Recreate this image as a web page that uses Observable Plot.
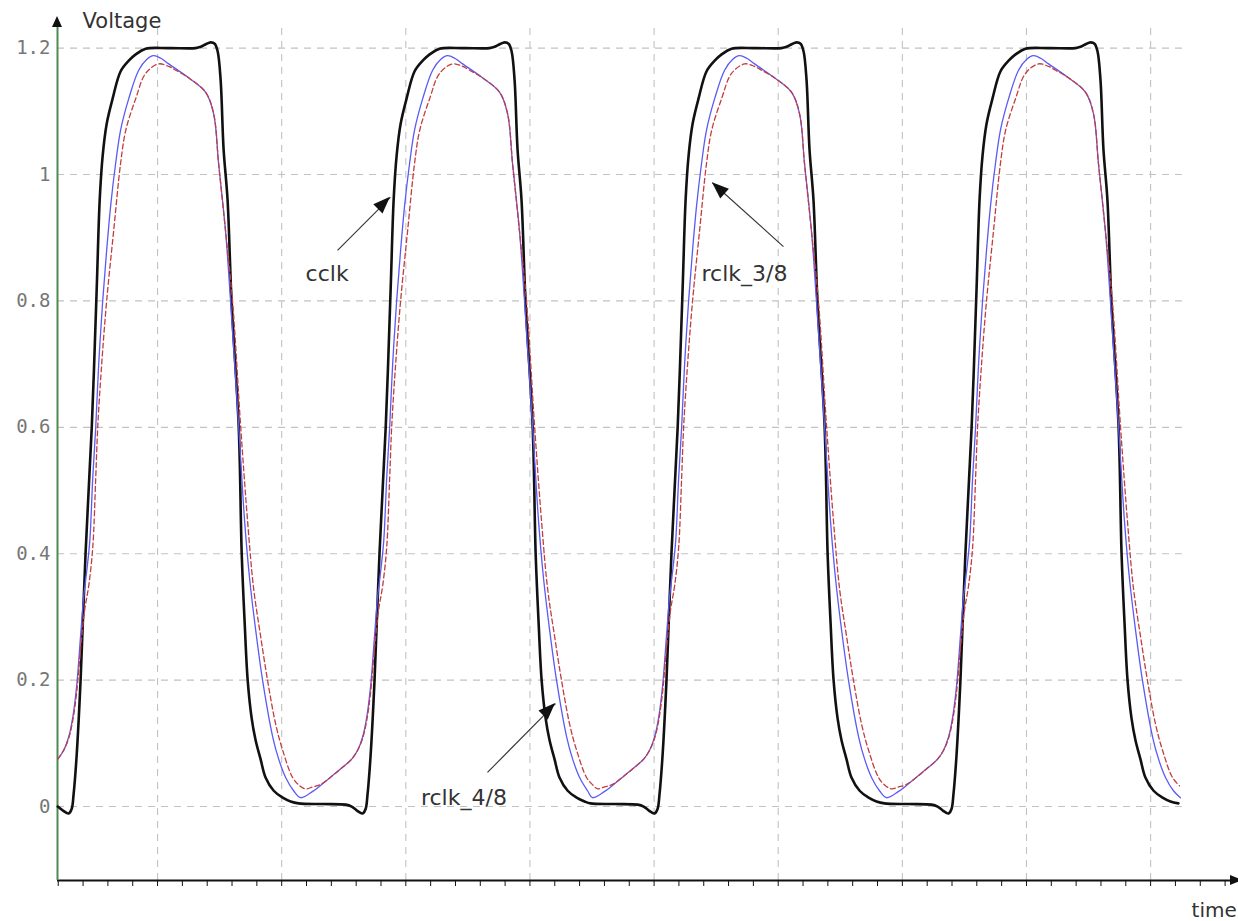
<!DOCTYPE html>
<html><head><meta charset="utf-8">
<script src="https://cdn.jsdelivr.net/npm/d3@7"></script>
<script src="https://cdn.jsdelivr.net/npm/@observablehq/plot@0.6"></script>
<style>
html,body{margin:0;padding:0;background:#fff;overflow:hidden}
#chart svg{display:block}
g[aria-label="annot"] text{letter-spacing:1.5px}
</style></head><body><div id="chart"></div>
<script>
// ---- scale frame (time units: one minor tick = 1; volts) ----
const tStart = 0.97, tEnd = 46.28, tAxisEnd = 48.54;
const yMin = -0.117, yMax = 1.25;
const gridT = [5, 10, 15, 20, 25, 30, 35, 40, 45];
const tickT = [1,2,3,4,5,6,7,8,9,10,11,12,13,14,15,16,17,18,19,20,21,22,23,24,25,26,27,28,29,30,31,32,33,34,35,36,37,38,39,40,41,42,43,44,45,46,47,48];
const yTicks = [0, 0.2, 0.4, 0.6, 0.8, 1, 1.2];
const yTickLabels = ["0", "0.2", "0.4", "0.6", "0.8", "1", "1.2"];

// time of the cclk undershoot minimum in each clock cycle
const cycleDips = [1.42, 13.26, 25.02, 36.86];

// one clock period of each waveform, time relative to the cycle's cclk dip
const cclkPhase = [-2.58,-1.61,-0.68,-0.44,-0.24,0,0.12,0.20,0.32,0.48,0.68,0.93,1.13,1.25,1.37,1.53,1.77,2.09,2.42,2.70,3.10,4.03,5.11,5.32,5.52,5.72,5.88,6.00,6.12,6.24,6.40,6.56,6.85,6.97,7.09,7.21,7.37,7.53,7.73,7.93,8.26,8.62,8.94,9.26,9.45];
const cclkV     = [0.005,0.004,0.003,0.000,-0.006,-0.011,-0.004,0.02,0.08,0.2,0.4,0.6,0.82,0.96,1.03,1.08,1.12,1.163,1.18,1.19,1.199,1.2,1.2,1.202,1.206,1.209,1.207,1.195,1.15,1.04,0.96,0.8,0.6,0.40,0.29,0.2,0.14,0.105,0.075,0.046,0.025,0.014,0.008,0.005,0.005];

const rclk48Phase = [-2.50,-2.01,-1.61,-1.21,-0.81,-0.44,-0.20,0,0.16,0.32,0.48,0.60,0.72,0.85,0.97,1.09,1.21,1.37,1.53,1.69,1.89,2.09,2.42,2.82,3.14,3.42,3.71,4.03,4.83,5.52,5.84,6.04,6.32,6.52,6.85,7.09,7.29,7.53,7.81,8.22,8.46,8.74,9.06,9.34,9.50];
const rclk48V     = [0.014,0.024,0.036,0.049,0.062,0.075,0.089,0.11,0.14,0.19,0.27,0.33,0.37,0.42,0.52,0.6,0.7,0.8,0.88,0.95,1.017,1.07,1.12,1.165,1.182,1.188,1.184,1.175,1.153,1.13,1.096,1.017,0.91,0.8,0.6,0.45,0.36,0.28,0.2,0.11,0.075,0.046,0.025,0.014,0.014];

const rclk38Phase = [-2.30,-2.01,-1.69,-1.21,-0.81,-0.44,-0.20,0,0.16,0.32,0.48,0.64,0.81,0.97,1.09,1.17,1.33,1.53,1.81,2.09,2.30,2.70,3.10,3.62,4.03,4.31,4.83,5.52,5.84,6.04,6.32,6.60,6.93,7.21,7.45,7.73,8.01,8.34,8.62,9.02,9.30,9.54];
const rclk38V     = [0.028,0.031,0.035,0.049,0.062,0.075,0.089,0.108,0.135,0.18,0.25,0.31,0.35,0.41,0.52,0.6,0.7,0.8,0.91,1.017,1.07,1.12,1.16,1.175,1.171,1.165,1.153,1.13,1.096,1.017,0.91,0.8,0.6,0.45,0.345,0.27,0.2,0.13,0.089,0.046,0.033,0.028];

// annotations
const annLabels = ["cclk", "rclk_3/8", "rclk_4/8"];
const annTextT  = [11.83, 28.64, 17.34];
const annTextV  = [0.842, 0.842, 0.014];
const annTailT  = [12.25, 30.21, 18.29];
const annTailV  = [0.88, 0.886, 0.054];
const annTipT   = [14.38, 27.35, 21.03];
const annTipV   = [0.964, 0.987, 0.163];

function buildSeries(phase, values) {
  const rows = [];
  cycleDips.forEach((d, i) => {
    const next = i + 1 < cycleDips.length ? cycleDips[i + 1] + phase[0] : Infinity;
    phase.forEach((p, j) => {
      const t = d + p;
      if (t >= tStart - 1e-6 && t < next - 1e-6 && t <= tEnd + 1e-6) rows.push({t, v: values[j]});
    });
  });
  return rows;
}
const cclk = buildSeries(cclkPhase, cclkV);
const rclk48 = buildSeries(rclk48Phase, rclk48V);
const rclk38 = buildSeries(rclk38Phase, rclk38V);

const ann = annLabels.map((label, i) => ({
  label, tx: annTextT[i], tv: annTextV[i],
  x1: annTailT[i], y1: annTailV[i], x2: annTipT[i], y2: annTipV[i]
}));

function decorations(index, scales) {
  const x = scales.x, y = scales.y;
  const g = d3.create("svg:g");
  const head = (x1, y1, x2, y2, L, W, fill) => {
    const a = Math.atan2(y2 - y1, x2 - x1);
    const bx = x2 - L * Math.cos(a), by = y2 - L * Math.sin(a);
    const px = -Math.sin(a) * W, py = Math.cos(a) * W;
    g.append("path")
      .attr("d", `M${x2},${y2}L${bx + px},${by + py}L${bx - px},${by - py}Z`)
      .attr("fill", fill);
  };
  ann.forEach(a => head(x(a.x1), y(a.y1), x(a.x2), y(a.y2), 17, 6.5, "#111"));
  // axis arrowheads
  const x0 = x(tStart), yb = y(yMin);
  head(x0, y(yMax) + 12, x0, y(yMax), 11, 5, "#111");
  const xr = x(tAxisEnd);
  head(xr - 12, yb, xr + 4, yb, 12, 5, "#111");
  return g.node();
}

const chart = Plot.plot({
  width: 1238, height: 921,
  marginLeft: 57, marginRight: 0, marginTop: 16, marginBottom: 41,
  style: {background: "#fff", color: "#111"},
  x: {domain: [tStart, tAxisEnd], ticks: tickT, tickSize: 6, tickFormat: () => "", label: null},
  y: {domain: [yMin, yMax], axis: null},
  marks: [
    Plot.ruleY(yTicks, {y: d => d, x1: tStart, x2: tEnd, stroke: "#c2c2c2", strokeDasharray: "7,6", strokeWidth: 1.1}),
    Plot.ruleX(gridT, {x: d => d, y1: yMin, y2: 1.24, stroke: "#c2c2c2", strokeDasharray: "7,6", strokeWidth: 1.1}),
    Plot.ruleY([yMin], {x1: tStart, x2: tAxisEnd, stroke: "#111", strokeWidth: 2}),
    Plot.ruleX([tStart], {y1: yMin, y2: yMax - 0.01, stroke: "#4f8a4f", strokeWidth: 2}),
    Plot.text(yTicks, {x: tStart, y: d => d, text: (d, i) => yTickLabels[i], textAnchor: "end", dx: -7,
      fontFamily: "DejaVu Sans Mono", fontSize: 19, fill: "#777"}),
    Plot.line(cclk, {x: "t", y: "v", stroke: "#111", strokeWidth: 2.6, curve: "catmull-rom"}),
    Plot.line(rclk48, {x: "t", y: "v", stroke: "#5a5af5", strokeWidth: 1.3, curve: "catmull-rom"}),
    Plot.line(rclk38, {x: "t", y: "v", stroke: "#c43c3c", strokeWidth: 1.3, strokeDasharray: "5,3", curve: "catmull-rom"}),
    Plot.link(ann, {x1: "x1", y1: "y1", x2: "x2", y2: "y2", stroke: "#333", strokeWidth: 1.1}),
    Plot.text(ann, {x: "tx", y: "tv", text: "label", textAnchor: "middle", fontFamily: "DejaVu Sans", fontSize: 22, fill: "#333", ariaLabel: "annot"}),
    Plot.text(["Voltage"], {x: 1.98, y: 1.243, text: d => d, textAnchor: "start", fontFamily: "DejaVu Sans", fontSize: 21, fill: "#333"}),
    Plot.text(["time"], {x: 46.65, y: -0.165, text: d => d, textAnchor: "start", fontFamily: "DejaVu Sans", fontSize: 20, fill: "#333"}),
    decorations
  ]
});
document.getElementById("chart").appendChild(chart);
</script></body></html>
